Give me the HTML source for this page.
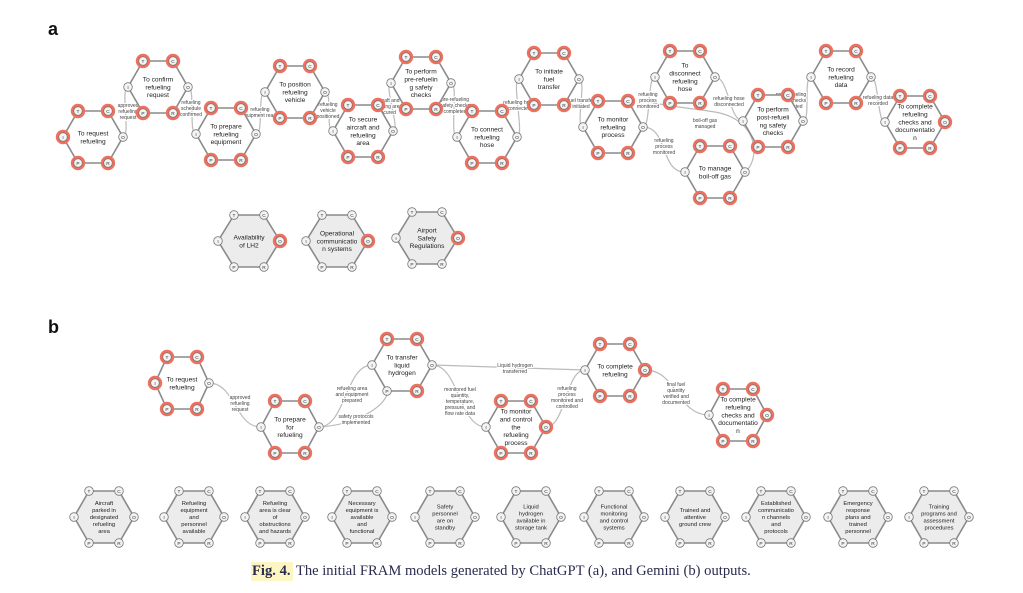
<!DOCTYPE html>
<html><head><meta charset="utf-8">
<style>
html,body{margin:0;padding:0;background:#fff;}
#wrap{position:relative;width:1023px;height:593px;overflow:hidden;}
svg{position:absolute;left:0;top:0;}
.cap{position:absolute;left:251px;top:563px;font-family:"Liberation Serif",serif;font-size:14.6px;color:#2b2b4f;white-space:nowrap;}
.cap b{background:#fdf6c3;padding:1px 2px 2px 1px;}
</style></head>
<body><div id="wrap">
<svg id="s" width="1023" height="593" viewBox="0 0 1023 593" xmlns="http://www.w3.org/2000/svg">
<text x="48" y="35" font-family="Liberation Sans, sans-serif" font-weight="bold" font-size="18" fill="#111">a</text>
<text x="48" y="333" font-family="Liberation Sans, sans-serif" font-weight="bold" font-size="18" fill="#111">b</text>
<g id="edges" fill="none" stroke="#bbb" stroke-width="1.2"></g>
<g id="elabels"></g>
<g id="hexes"></g>
</svg>
<div class="cap"><b>Fig. 4.</b> The initial FRAM models generated by ChatGPT (a), and Gemini (b) outputs.</div>
</div>
<script>
var NS="http://www.w3.org/2000/svg";
function el(t,a,p){var e=document.createElementNS(NS,t);for(var k in a)e.setAttribute(k,a[k]);p.appendChild(e);return e;}
var H=document.getElementById('hexes'),E=document.getElementById('edges'),L=document.getElementById('elabels');
var F="Liberation Sans, DejaVu Sans, sans-serif";
var P={};
function hex(id,cx,cy,text,red,gray,hw,fs){
  hw=hw||30;var hh=26,tx=15;fs=fs||6.6;
  var pts={I:[cx-hw,cy],T:[cx-tx,cy-hh],C:[cx+tx,cy-hh],O:[cx+hw,cy],R:[cx+tx,cy+hh],P:[cx-tx,cy+hh]};
  P[id]=pts;
  var poly=[pts.I,pts.T,pts.C,pts.O,pts.R,pts.P].map(function(p){return p.join(',')}).join(' ');
  el('polygon',{points:poly,fill:gray?'#ececec':'#fff',stroke:'#8a8a8a','stroke-width':1.6},H);
  var lines=text.split('|');var lh=fs*1.2;var y0=cy-(lines.length-1)*lh/2+fs*0.35;
  lines.forEach(function(s,i){var t=el('text',{x:cx,y:y0+i*lh,'text-anchor':'middle','font-family':F,'font-size':fs,fill:'#222'},H);t.textContent=s;});
  ['T','C','I','O','P','R'].forEach(function(k){
    var p=pts[k];
    if(red.indexOf(k)>=0) el('circle',{cx:p[0],cy:p[1],r:7.2,fill:'#f0705f'},H);
    el('circle',{cx:p[0],cy:p[1],r:4.3,fill:'#f4f4f4',stroke:'#777','stroke-width':0.8},H);
    var t=el('text',{x:p[0],y:p[1]+1.8,'text-anchor':'middle','font-family':F,'font-size':4.8,fill:'#333'},H);t.textContent=k;
  });
}
function edge(a,ak,b,bk,lab,lx,ly,bend){
  var p=P[a][ak],q=P[b][bk];bend=bend||0.5;
  var dx=(q[0]-p[0]);
  var d='M'+p[0]+','+p[1]+' C'+(p[0]+Math.max(8,dx*bend))+','+p[1]+' '+(q[0]-Math.max(8,dx*bend))+','+q[1]+' '+q[0]+','+q[1];
  el('path',{d:d},E);
  if(lab){var ls=lab.split('|');ls.forEach(function(s,i){
    var bg=el('text',{x:lx,y:ly+i*6+(1-ls.length)*3+2,'text-anchor':'middle','font-family':F,'font-size':5,fill:'#444',stroke:'#fff','stroke-width':2,'paint-order':'stroke'},L);bg.textContent=s;});}
}
hex('a1',93,137,'To request|refueling','TCIPR');
hex('a2',158,87,'To confirm|refueling|request','TCPR');
hex('a3',226,134,'To prepare|refueling|equipment','TCPR');
hex('a4',295,92,'To position|refueling|vehicle','TCPR');
hex('a5',363,131,'To secure|aircraft and|refueling|area','TCPR');
hex('a6',421,83,'To perform|pre-refuelin|g safety|checks','TCPR');
hex('a7',487,137,'To connect|refueling|hose','TCPR');
hex('a8',549,79,'To initiate|fuel|transfer','TCPR');
hex('a9',613,127,'To monitor|refueling|process','TCPR');
hex('a10',685,77,'To|disconnect|refueling|hose','TCPR');
hex('a11',715,172,'To manage|boil-off gas','TCPR');
hex('a12',773,121,'To perform|post-refueli|ng safety|checks','TCPR');
hex('a13',841,77,'To record|refueling|data','TCPR');
hex('a14',915,122,'To complete|refueling|checks and|documentatio|n','TCPRO');
hex('r1',249,241,'Availability|of LH2','O',true,31);
hex('r2',337,241,'Operational|communicatio|n systems','O',true,31);
hex('r3',427,238,'Airport|Safety|Regulations','O',true,31);
hex('b1',182,383,'To request|refueling','TCIPR',false,27);
hex('b2',290,427,'To prepare|for|refueling','TCPR',false,29);
hex('b3',402,365,'To transfer|liquid|hydrogen','TCR',false,30);
hex('b4',516,427,'To monitor|and control|the|refueling|process','TCPRO',false,30);
hex('b5',615,370,'To complete|refueling','TCPRO',false,30);
hex('b6',738,415,'To complete|refueling|checks and|documentatio|n','TCPRO',false,29);
var bx=[104,194,275,362,445,531,614,695,776,858,939];
var bt=['Aircraft|parked in|designated|refueling|area','Refueling|equipment|and|personnel|available','Refueling|area is clear|of|obstructions|and hazards','Necessary|equipment is|available|and|functional','Safety|personnel|are on|standby','Liquid|hydrogen|available in|storage tank','Functional|monitoring|and control|systems','Trained and|attentive|ground crew','Established|communicatio|n channels|and|protocols','Emergency|response|plans and|trained|personnel','Training|programs and|assessment|procedures'];
bx.forEach(function(x,i){hex('g'+i,x,517,bt[i],'',true,30,5.8);});
edge('a1','O','a2','I','approved|refueling|request',128,111);
edge('a2','O','a3','I','refueling|schedule|confirmed',191,108);
edge('a3','O','a4','I','refueling|equipment ready',260,112);
edge('a4','O','a5','I','refueling|vehicle|positioned',328,110);
edge('a5','O','a6','I','aircraft and|refueling area|secured',387,106);
edge('a6','O','a7','I','pre-refueling|safety checks|completed',455,105);
edge('a7','O','a8','I','refueling hose|connected',519,105);
edge('a8','O','a9','I','fuel transfer|initiated',581,103);
edge('a9','O','a10','I','refueling|process|monitored',648,100);
edge('a9','O','a11','I','refueling|process|monitored',664,146,0.6);
el('path',{d:'M745,172 C760,160 760,120 715,112 C690,108 665,106 650,102'},E);
var t=el('text',{x:705,y:122,'text-anchor':'middle','font-family':F,'font-size':5,fill:'#444'},L);t.textContent='boil-off gas';
t=el('text',{x:705,y:128,'text-anchor':'middle','font-family':F,'font-size':5,fill:'#444'},L);t.textContent='managed';
edge('a10','O','a12','I','refueling hose|disconnected',729,101);
edge('a12','O','a13','I','post-refueling|safety checks|completed',791,100);
edge('a13','O','a14','I','refueling data|recorded',878,100);
edge('b1','O','b2','I','approved|refueling|request',240,403);
edge('b2','O','b3','I','refueling area|and equipment|prepared',352,394);
el('path',{d:'M320,427 C350,425 385,410 388,391'},E);
t=el('text',{x:356,y:418,'text-anchor':'middle','font-family':F,'font-size':5,fill:'#444',stroke:'#fff','stroke-width':2,'paint-order':'stroke'},L);t.textContent='safety protocols';
t=el('text',{x:356,y:424,'text-anchor':'middle','font-family':F,'font-size':5,fill:'#444',stroke:'#fff','stroke-width':2,'paint-order':'stroke'},L);t.textContent='implemented';
el('path',{d:'M433,365 L585,370'},E);
t=el('text',{x:515,y:367,'text-anchor':'middle','font-family':F,'font-size':5,fill:'#444',stroke:'#fff','stroke-width':2,'paint-order':'stroke'},L);t.textContent='Liquid hydrogen';
t=el('text',{x:515,y:373,'text-anchor':'middle','font-family':F,'font-size':5,fill:'#444',stroke:'#fff','stroke-width':2,'paint-order':'stroke'},L);t.textContent='transferred';
edge('b3','O','b4','I','monitored fuel|quantity,|temperature,|pressure, and|flow rate data',460,401);
edge('b4','O','b5','I','refueling|process|monitored and|controlled',567,397);
edge('b5','O','b6','I','final fuel|quantity|verified and|documented',676,393);
</script>
</body></html>
